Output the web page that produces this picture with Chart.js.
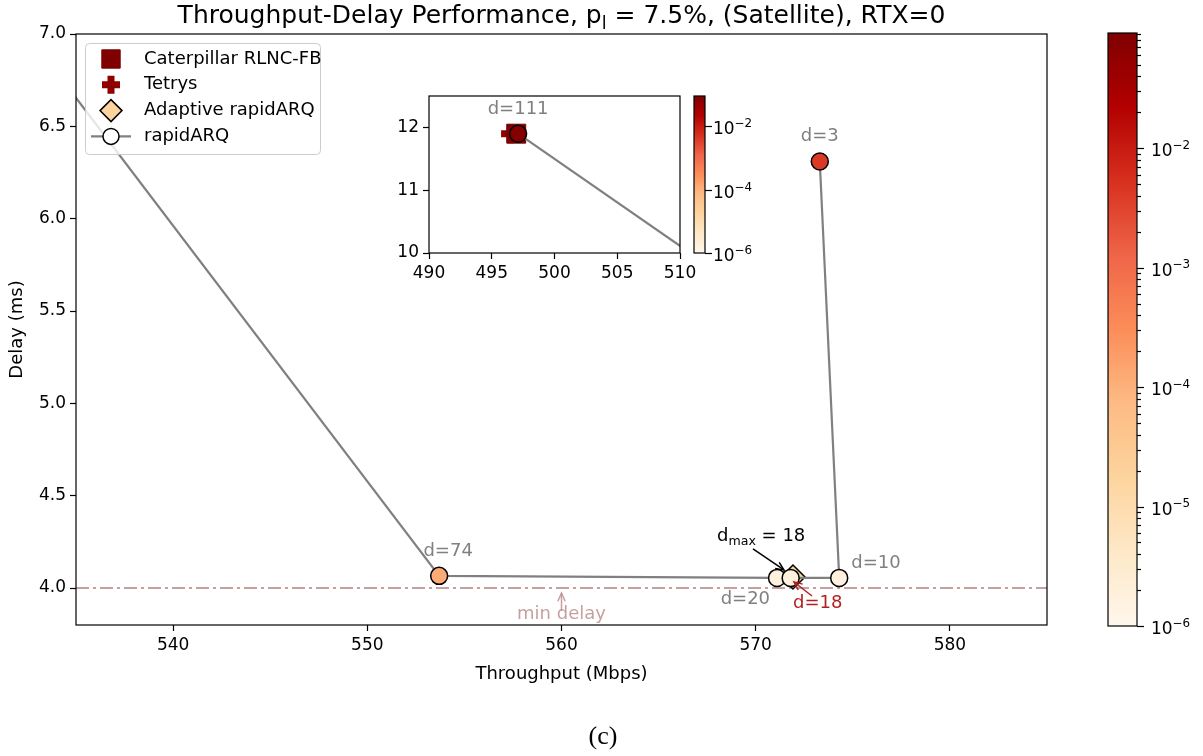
<!DOCTYPE html>
<html>
<head>
<meta charset="utf-8">
<script src="https://cdn.jsdelivr.net/npm/chart.js@4.4.0/dist/chart.umd.min.js"></script>
<style>
  body { margin: 0; background: #fff; }
  #wrap { position: relative; width: 1203px; height: 756px; }
  #wrap canvas { position: absolute; }
</style>
</head>
<body>
<div id="wrap">
  <canvas id="mainChart" width="1203" height="756" style="left:0;top:0"></canvas>
  <canvas id="insetChart" width="330" height="195" style="left:380px;top:86px"></canvas>
  <canvas id="insetBar" width="70" height="180" style="left:686px;top:86px"></canvas>
  <canvas id="mainBar" width="103" height="625" style="left:1100px;top:20px"></canvas>
</div>
<script>
// rapidARQ, swept over the coding delay d
var rapidD = [111, 74, 20, 18, 10, 3];
var rapidThroughput = [497.1, 553.7, 571.1, 571.8, 574.3, 573.3];
var rapidDelay = [11.9, 4.066, 4.055, 4.055, 4.055, 6.31];
var rapidLoss = [8e-2, 1.2e-4, 1.8e-6, 1.8e-6, 1.8e-6, 4.2e-3];

var adaptiveThroughput = [571.92];
var adaptiveDelay = [4.06];
var adaptiveLoss = [1.7e-5];
var adaptiveDmax = 18;

var caterpillarThroughput = [496.95];
var caterpillarDelay = [11.9];
var caterpillarLoss = [0.092];

var tetrysThroughput = [496.5];
var tetrysDelay = [11.9];
var tetrysLoss = [0.06];

var minDelay = 4.0;

// axis ticks
var mainXTicks = [540, 550, 560, 570, 580];
var mainYTicks = [4.0, 4.5, 5.0, 5.5, 6.0, 6.5, 7.0];
var insetXTicks = [490, 495, 500, 505, 510];
var insetYTicks = [10, 11, 12];
var lossMin = 1e-6;
var lossMax = 0.092;
var barMajor = [1e-6, 1e-5, 1e-4, 1e-3, 1e-2];
var barMinor = [2e-6, 3e-6, 4e-6, 5e-6, 6e-6, 7e-6, 8e-6, 9e-6,
                2e-5, 3e-5, 4e-5, 5e-5, 6e-5, 7e-5, 8e-5, 9e-5,
                2e-4, 3e-4, 4e-4, 5e-4, 6e-4, 7e-4, 8e-4, 9e-4,
                2e-3, 3e-3, 4e-3, 5e-3, 6e-3, 7e-3, 8e-3, 9e-3,
                2e-2, 3e-2, 4e-2, 5e-2, 6e-2, 7e-2, 8e-2, 9e-2];
var insetBarMajor = [1e-6, 1e-4, 1e-2];

var FONT = "'DejaVu Sans', sans-serif";
var TICK = 17;
var TEXT = 18;
var GRAY = '#808080';
var ROSY = 'rgba(188,143,143,0.85)';
var RED = '#b22222';

// OrRd colour map
var orRdStops = ['#fff7ec', '#fee8c8', '#fdd49e', '#fdbb84', '#fc8d59', '#ef6548', '#d7301f', '#b30000', '#7f0000'];
function hexRgb(h) {
	return [parseInt(h.substr(1, 2), 16), parseInt(h.substr(3, 2), 16), parseInt(h.substr(5, 2), 16)];
}
function orRd(t) {
	t = Math.max(0, Math.min(1, t));
	var s = t * 8, i = Math.min(7, Math.floor(s)), f = s - i;
	var a = hexRgb(orRdStops[i]), b = hexRgb(orRdStops[i + 1]);
	var c = a.map(function (v, k) { return Math.round(v + (b[k] - v) * f); });
	return 'rgb(' + c.join(',') + ')';
}
function lossColor(p) {
	var lo = Math.log10(lossMin), hi = Math.log10(lossMax);
	return orRd((Math.log10(p) - lo) / (hi - lo));
}

function toPoints(xs, ys) {
	return xs.map(function (x, i) { return { x: x, y: ys[i] }; });
}

function seriesDatasets() {
	return [
		{
			label: 'rapidARQ',
			data: toPoints(rapidThroughput, rapidDelay),
			showLine: true,
			borderColor: GRAY,
			borderWidth: 2.2,
			pointStyle: 'circle',
			pointRadius: 8.5,
			pointBorderWidth: 1.5,
			pointBorderColor: '#000',
			pointBackgroundColor: rapidLoss.map(lossColor),
			order: 0,
		},
		{
			label: 'Adaptive rapidARQ',
			data: toPoints(adaptiveThroughput, adaptiveDelay),
			pointStyle: 'rectRot',
			pointRadius: 12,
			pointBorderWidth: 1.5,
			pointBorderColor: '#000',
			pointBackgroundColor: adaptiveLoss.map(lossColor),
			order: 1,
		},
		{
			label: 'Caterpillar RLNC-FB',
			data: toPoints(caterpillarThroughput, caterpillarDelay),
			pointStyle: 'rect',
			pointRadius: 13.4,
			pointBorderWidth: 1,
			pointBorderColor: caterpillarLoss.map(lossColor),
			pointBackgroundColor: caterpillarLoss.map(lossColor),
			order: 2,
		},
		{
			label: 'Tetrys',
			data: toPoints(tetrysThroughput, tetrysDelay),
			pointStyle: 'cross',
			pointRadius: 9.5,
			pointBorderWidth: 7,
			pointBorderColor: tetrysLoss.map(lossColor),
			order: 3,
		},
	];
}

// fixed axis box; drop the extra room chart.js reserves for edge labels
function fixBox(size) {
	return function (s) {
		if (s.isHorizontal()) s.height = size; else s.width = size;
		s.paddingLeft = s.paddingRight = s.paddingTop = s.paddingBottom = 0;
	};
}

function linearAxis(ticks, min, max, fmt, size) {
	return {
		type: 'linear',
		min: min,
		max: max,
		afterBuildTicks: function (s) { s.ticks = ticks.map(function (v) { return { value: v }; }); },
		afterFit: fixBox(size),
		grid: { display: true, drawOnChartArea: false, drawTicks: true, tickLength: 6, tickColor: '#000', tickWidth: 1.2 },
		border: { display: false },
		ticks: { color: '#000', font: { family: FONT, size: TICK }, padding: 4, maxRotation: 0, autoSkip: false, callback: fmt },
	};
}

function drawFrame(chart) {
	var a = chart.chartArea, ctx = chart.ctx;
	ctx.save();
	ctx.strokeStyle = '#000';
	ctx.lineWidth = 1.2;
	ctx.strokeRect(a.left, a.top, a.right - a.left, a.bottom - a.top);
	ctx.restore();
}

function whiteBackground(chart) {
	var a = chart.chartArea, ctx = chart.ctx;
	ctx.save();
	ctx.fillStyle = '#fff';
	ctx.fillRect(a.left, a.top, a.right - a.left, a.bottom - a.top);
	ctx.restore();
}

// text runs with optional sub- or superscripts
function drawRich(ctx, parts, x, y, size, align) {
	var widths = parts.map(function (p) {
		ctx.font = (p.sub || p.sup ? size * 0.7 : size) + 'px ' + FONT;
		return ctx.measureText(p.text).width;
	});
	var total = widths.reduce(function (s, w) { return s + w; }, 0);
	var cx = align === 'center' ? x - total / 2 : x;
	ctx.textAlign = 'left';
	ctx.textBaseline = 'alphabetic';
	parts.forEach(function (p, i) {
		ctx.font = (p.sub || p.sup ? size * 0.7 : size) + 'px ' + FONT;
		var dy = p.sub ? size * 0.25 : (p.sup ? -size * 0.42 : 0);
		ctx.fillText(p.text, cx, y + dy);
		cx += widths[i];
	});
}

function arrow(ctx, x1, y1, x2, y2, color) {
	ctx.save();
	ctx.strokeStyle = color;
	ctx.lineWidth = 1.5;
	ctx.beginPath();
	ctx.moveTo(x1, y1);
	ctx.lineTo(x2, y2);
	ctx.stroke();
	var ang = Math.atan2(y2 - y1, x2 - x1), h = 9, w = 0.42;
	ctx.beginPath();
	ctx.moveTo(x2 - h * Math.cos(ang - w), y2 - h * Math.sin(ang - w));
	ctx.lineTo(x2, y2);
	ctx.lineTo(x2 - h * Math.cos(ang + w), y2 - h * Math.sin(ang + w));
	ctx.stroke();
	ctx.restore();
}

// gray "d=.." labels, offset in px from each rapidARQ marker
var labelOffsets = { 111: [0, -24, 'center'], 74: [9, -25, 'center'], 20: [-7, 21, 'right'], 10: [12, -15, 'left'], 3: [0, -25, 'center'] };

function drawDLabels(chart) {
	var ctx = chart.ctx, xs = chart.scales.x, ys = chart.scales.y;
	ctx.save();
	ctx.fillStyle = GRAY;
	ctx.font = TEXT + 'px ' + FONT;
	ctx.textBaseline = 'middle';
	rapidD.forEach(function (d, i) {
		var off = labelOffsets[d];
		if (!off) return;
		var x = rapidThroughput[i], y = rapidDelay[i];
		if (x < xs.min || x > xs.max || y < ys.min || y > ys.max) return;
		ctx.textAlign = off[2];
		ctx.fillText('d=' + d, xs.getPixelForValue(x) + off[0], ys.getPixelForValue(y) + off[1]);
	});
	ctx.restore();
}

var legendItems = [
	{ text: 'Caterpillar RLNC-FB', style: 'rect', radius: 13, fill: lossColor(caterpillarLoss[0]), stroke: lossColor(caterpillarLoss[0]), width: 1 },
	{ text: 'Tetrys', style: 'cross', radius: 9, fill: null, stroke: lossColor(tetrysLoss[0]), width: 7 },
	{ text: 'Adaptive rapidARQ', style: 'rectRot', radius: 11, fill: '#fdd49e', stroke: '#000', width: 1.5 },
	{ text: 'rapidARQ', style: 'circle', radius: 8, fill: '#fff', stroke: '#000', width: 1.5, line: true },
];

function drawLegend(ctx) {
	ctx.save();
	ctx.fillStyle = 'rgba(255,255,255,0.8)';
	ctx.strokeStyle = '#cccccc';
	ctx.lineWidth = 1;
	ctx.beginPath();
	ctx.roundRect(85.5, 43.5, 235, 111, 4);
	ctx.fill();
	ctx.stroke();
	legendItems.forEach(function (it, i) {
		var y = 59 + i * 25.8, x = 111;
		if (it.line) {
			ctx.strokeStyle = GRAY;
			ctx.lineWidth = 2.2;
			ctx.beginPath();
			ctx.moveTo(91, y);
			ctx.lineTo(131, y);
			ctx.stroke();
		}
		ctx.fillStyle = it.fill || 'rgba(0,0,0,0)';
		ctx.strokeStyle = it.stroke;
		ctx.lineWidth = it.width;
		Chart.helpers.drawPoint(ctx, { pointStyle: it.style, radius: it.radius, rotation: 0, borderWidth: it.width }, x, y);
		ctx.fillStyle = '#000';
		ctx.font = TEXT + 'px ' + FONT;
		ctx.textAlign = 'left';
		ctx.textBaseline = 'middle';
		ctx.fillText(it.text, 144, y);
	});
	ctx.restore();
}

var mainDecor = {
	id: 'mainDecor',
	afterDatasetsDraw: function (chart) {
		var ctx = chart.ctx, xs = chart.scales.x, ys = chart.scales.y;
		drawFrame(chart);
		drawDLabels(chart);

		// min delay marker
		var mx = xs.getPixelForValue(560), my = ys.getPixelForValue(minDelay);
		arrow(ctx, mx, my + 23, mx, my + 5, ROSY);
		ctx.save();
		ctx.fillStyle = ROSY;
		ctx.font = TEXT + 'px ' + FONT;
		ctx.textAlign = 'center';
		ctx.textBaseline = 'middle';
		ctx.fillText('min delay', mx, my + 26);
		ctx.restore();

		// adaptive rapidARQ annotations
		var ax = xs.getPixelForValue(adaptiveThroughput[0]), ay = ys.getPixelForValue(adaptiveDelay[0]);
		ctx.save();
		ctx.fillStyle = '#000';
		drawRich(ctx, [{ text: 'd' }, { text: 'max', sub: true }, { text: ' = ' + adaptiveDmax }], ax - 76, ay - 36, TEXT, 'left');
		ctx.restore();
		arrow(ctx, ax - 40, ay - 28, ax - 9, ay - 7, '#000');
		arrow(ctx, ax + 19, ay + 19, ax + 1, ay + 5, RED);
		ctx.save();
		ctx.fillStyle = RED;
		ctx.font = TEXT + 'px ' + FONT;
		ctx.textAlign = 'left';
		ctx.textBaseline = 'middle';
		ctx.fillText('d=' + adaptiveDmax, ax, ay + 26);
		ctx.restore();

		drawLegend(ctx);

		// title and caption
		var a = chart.chartArea;
		ctx.save();
		ctx.fillStyle = '#000';
		drawRich(ctx, [
			{ text: 'Throughput-Delay Performance, p' },
			{ text: 'l', sub: true },
			{ text: ' = 7.5%, (Satellite), RTX=0' },
		], (a.left + a.right) / 2, 23, 25, 'center');
		ctx.font = "26px 'Liberation Serif', serif";
		ctx.textAlign = 'center';
		ctx.textBaseline = 'middle';
		ctx.fillText('(c)', 603, 737);
		ctx.restore();
	},
};

var mainDatasets = seriesDatasets();
mainDatasets.push({
	label: 'min delay',
	data: [{ x: 535, y: minDelay }, { x: 585, y: minDelay }],
	showLine: true,
	borderColor: ROSY,
	borderWidth: 2,
	borderDash: [13, 4, 3, 4],
	pointRadius: 0,
	order: 5,
});

var mainX = linearAxis(mainXTicks, 535, 585, function (v) { return String(v); }, 60);
mainX.title = { display: true, text: 'Throughput (Mbps)', color: '#000', font: { family: FONT, size: TEXT }, padding: { top: 3, bottom: 0 } };
var mainY = linearAxis(mainYTicks, 3.8, 7.0, function (v) { return v.toFixed(1); }, 76);
mainY.title = { display: true, text: 'Delay (ms)', color: '#000', font: { family: FONT, size: TEXT }, padding: { top: 7, bottom: 0 } };

new Chart(document.getElementById('mainChart'), {
	type: 'scatter',
	data: { datasets: mainDatasets },
	options: {
		responsive: false,
		animation: false,
		devicePixelRatio: 1,
		layout: { autoPadding: false, padding: { left: 0, right: 156, top: 34, bottom: 71 } },
		plugins: { legend: { display: false }, tooltip: { enabled: false } },
		scales: { x: mainX, y: mainY },
	},
	plugins: [mainDecor],
});

// zoomed inset around the d=111 operating point
var insetX = linearAxis(insetXTicks, 490, 510, function (v) { return String(v); }, 28);
var insetY = linearAxis(insetYTicks, 10, 12.5, function (v) { return String(v); }, 49);

new Chart(document.getElementById('insetChart'), {
	type: 'scatter',
	data: { datasets: seriesDatasets() },
	options: {
		responsive: false,
		animation: false,
		devicePixelRatio: 1,
		layout: { autoPadding: false, padding: { left: 0, right: 30, top: 10, bottom: 0 } },
		plugins: { legend: { display: false }, tooltip: { enabled: false } },
		scales: { x: insetX, y: insetY },
	},
	plugins: [{
		id: 'insetDecor',
		beforeDatasetsDraw: whiteBackground,
		afterDatasetsDraw: function (chart) {
			drawFrame(chart);
			drawDLabels(chart);
		},
	}],
});

// colour bars for the packet loss rate
function colorbar(id, major, minor, pad, axisWidth, labelPad) {
	return new Chart(document.getElementById(id), {
		type: 'bar',
		data: {
			labels: ['loss'],
			datasets: [{
				data: [[lossMin, lossMax]],
				barPercentage: 1,
				categoryPercentage: 1,
				borderWidth: 0,
				backgroundColor: function (c) {
					var a = c.chart.chartArea;
					if (!a) return orRdStops[4];
					var g = c.chart.ctx.createLinearGradient(0, a.bottom, 0, a.top);
					for (var i = 0; i <= 40; i++) g.addColorStop(i / 40, orRd(i / 40));
					return g;
				},
			}],
		},
		options: {
			responsive: false,
			animation: false,
			devicePixelRatio: 1,
			layout: { autoPadding: false, padding: pad },
			plugins: { legend: { display: false }, tooltip: { enabled: false } },
			scales: {
				x: { display: false },
				y: {
					type: 'logarithmic',
					position: 'right',
					min: lossMin,
					max: lossMax,
					afterBuildTicks: function (s) { s.ticks = major.map(function (v) { return { value: v }; }); },
					afterFit: fixBox(axisWidth),
					grid: { display: false },
					border: { display: false },
					ticks: { display: false },
				},
			},
		},
		plugins: [{
			id: 'barTicks',
			afterDatasetsDraw: function (chart) {
				var ctx = chart.ctx, a = chart.chartArea, ys = chart.scales.y;
				drawFrame(chart);
				ctx.save();
				ctx.strokeStyle = '#000';
				ctx.lineWidth = 1.2;
				[[major, 7], [minor, 4]].forEach(function (set) {
					set[0].forEach(function (v) {
						var y = Math.round(ys.getPixelForValue(v)) + 0.5;
						ctx.beginPath();
						ctx.moveTo(a.right, y);
						ctx.lineTo(a.right + set[1], y);
						ctx.stroke();
					});
				});
				// 10^k labels
				ctx.fillStyle = '#000';
				major.forEach(function (v) {
					var e = Math.round(Math.log10(v));
					var y = ys.getPixelForValue(v);
					drawRich(ctx, [{ text: '10' }, { text: '\u2212' + Math.abs(e), sup: true }], a.right + labelPad, y + 8, TICK, 'left');
				});
				ctx.restore();
			},
		}],
	});
}

colorbar('mainBar', barMajor, barMinor, { left: 8, right: 0, top: 13, bottom: 19 }, 66, 14);
colorbar('insetBar', insetBarMajor, [], { left: 8, right: 0, top: 10, bottom: 13 }, 51, 8);
</script>
</body>
</html>
